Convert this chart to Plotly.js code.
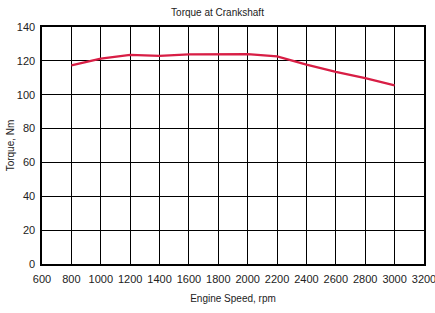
<!DOCTYPE html>
<html><head><meta charset="utf-8">
<script src="https://cdn.plot.ly/plotly-3.0.1.min.js"></script>
<style>html,body{margin:0;padding:0;background:#fff}#c{width:435px;height:313px}</style>
</head><body><div id="c"></div>
<script>
const rpm = [800, 1000, 1200, 1400, 1600, 1800, 2000, 2200, 2400, 2600, 2800, 3000];
const torque = [117.3, 121.3, 123.5, 123, 123.8, 124, 124, 122.6, 117.8, 113.5, 109.8, 105.5];
const xTicks = [600, 800, 1000, 1200, 1400, 1600, 1800, 2000, 2200, 2400, 2600, 2800, 3000, 3200];
const yTicks = [0, 20, 40, 60, 80, 100, 120, 140];
const F = '"Liberation Sans", Arial, sans-serif';
Plotly.newPlot('c', [{
  x: rpm, y: torque, type: 'scatter', mode: 'lines',
  line: {color: '#d81e45', width: 2.2}, hoverinfo: 'skip'
}], {
  width: 435, height: 313,
  margin: {l: 42, r: 11, t: 27, b: 49},
  paper_bgcolor: '#fff', plot_bgcolor: '#fff',
  font: {family: F, size: 11, color: '#222'},
  title: {text: 'Torque at Crankshaft', font: {family: F, size: 10, color: '#222'}, x: 0.5, xanchor: 'center', y: 0.96, yanchor: 'middle'},
  showlegend: false,
  xaxis: {
    range: [600, 3200], tickvals: xTicks, ticktext: xTicks.map(String),
    showgrid: true, gridcolor: '#000', gridwidth: 1,
    showline: true, linecolor: '#000', linewidth: 1.6, mirror: true,
    zeroline: false, ticks: 'outside', ticklen: 4, tickcolor: 'rgba(0,0,0,0)',
    ticklabeloverflow: 'allow',
    tickfont: {family: F, size: 11, color: '#222'},
    title: {text: 'Engine Speed, rpm', font: {family: F, size: 10, color: '#222'}, standoff: 11}
  },
  yaxis: {
    range: [0, 140], tickvals: yTicks, ticktext: yTicks.map(String),
    showgrid: true, gridcolor: '#000', gridwidth: 1,
    showline: true, linecolor: '#000', linewidth: 1.6, mirror: true,
    zeroline: false, ticks: 'outside', ticklen: 3, tickcolor: 'rgba(0,0,0,0)',
    tickfont: {family: F, size: 11, color: '#222'},
    title: {text: 'Torque, Nm', font: {family: F, size: 10, color: '#222'}, standoff: 0}
  }
}, {displayModeBar: false, staticPlot: true});
</script></body></html>
